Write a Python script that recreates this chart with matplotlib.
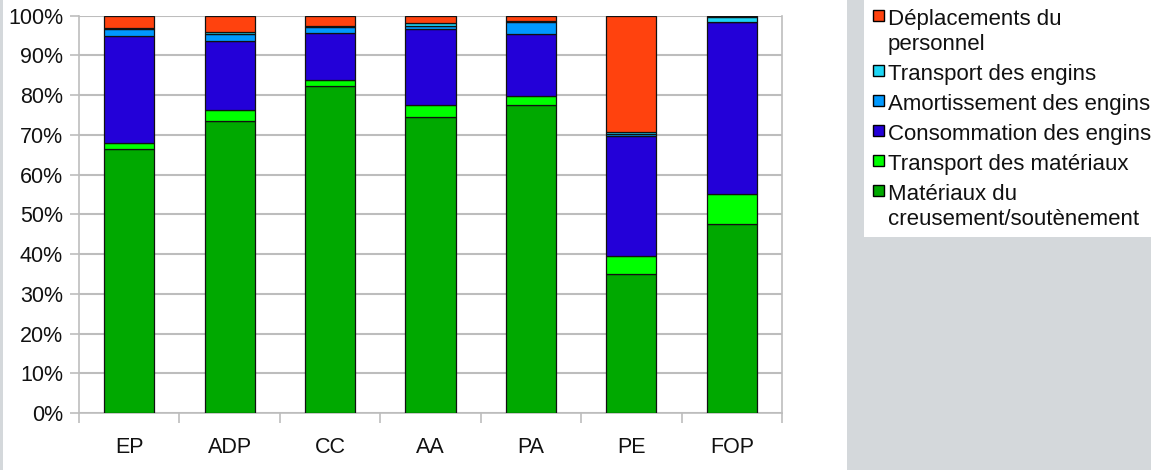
import matplotlib.pyplot as plt
import numpy as np
from matplotlib.patches import Rectangle

plt.rcParams['font.family'] = ['Liberation Sans', 'DejaVu Sans']

sites = ['EP', 'ADP', 'CC', 'AA', 'PA', 'PE', 'FOP']

# shares in % for each site, stacked from bottom to top
materiaux = [66.4, 73.6, 82.2, 74.5, 77.4, 35.0, 47.5]
transport_mat = [1.6, 2.7, 1.6, 2.9, 2.5, 4.6, 7.6]
consommation = [26.9, 17.3, 11.9, 19.2, 15.5, 30.1, 43.2]
amortissement = [1.8, 1.7, 1.4, 0.8, 2.9, 0.5, 0.1]
transport_eng = [0.3, 0.5, 0.4, 0.7, 0.4, 0.5, 1.2]
deplacements = [3.0, 4.2, 2.5, 1.9, 1.3, 29.3, 0.4]

series = [
    (materiaux, 'Matériaux du\ncreusement/soutènement', '#00a900'),
    (transport_mat, 'Transport des matériaux', '#00ff00'),
    (consommation, 'Consommation des engins', '#2300d8'),
    (amortissement, 'Amortissement des engins', '#0099ff'),
    (transport_eng, 'Transport des engins', '#1ed6f5'),
    (deplacements, 'Déplacements du\npersonnel', '#ff420e'),
]

W, H = 1151, 470
fig = plt.figure(figsize=(W / 100, H / 100), dpi=100, facecolor='#d4d8db')

# white panels behind the chart and the legend
fig.patches.append(Rectangle((3 / W, 0), 844 / W, 1, transform=fig.transFigure,
                             facecolor='white', edgecolor='none', zorder=-5))
fig.patches.append(Rectangle((864 / W, 1 - 237 / H), 287 / W, 237 / H,
                             transform=fig.transFigure, facecolor='white',
                             edgecolor='none', zorder=-5))

ax = fig.add_axes([79 / W, 57 / H, 703 / W, 397.3 / H])
ax.set_zorder(2)
ax.set_facecolor('white')

x = np.arange(len(sites))
bottom = np.zeros(len(sites))
for vals, label, color in series:
    v = np.array(vals)
    ax.bar(x, v, 0.5, bottom=bottom, color=color, edgecolor='#111111',
           linewidth=0.9, zorder=3)
    bottom += v

ax.set_xlim(-0.5, len(sites) - 0.5)
ax.set_ylim(0, 100)
ax.set_yticks(np.arange(0, 101, 10))
ax.set_yticklabels([f'{t}%' for t in range(0, 101, 10)])
ax.set_xticks(x)
ax.set_xticklabels(sites)
ax.set_xticks(np.arange(-0.5, len(sites), 1), minor=True)

ax.grid(axis='y', color='#bdbdbd', linewidth=1.5, zorder=0)
ax.tick_params(axis='y', length=6.5, width=1.2, color='#bdbdbd', pad=5,
               labelsize=15.5, labelcolor='#111111')
ax.tick_params(axis='x', which='major', length=0, pad=17, labelsize=15.5,
               labelcolor='#111111')
ax.tick_params(axis='x', which='minor', length=7, width=1.2, color='#bdbdbd')

for side in ['left', 'bottom', 'right']:
    ax.spines[side].set_color('#bdbdbd')
    ax.spines[side].set_linewidth(1.2)
ax.spines['top'].set_visible(False)

# legend drawn by hand: square beside the first line of each entry
baseline = 25
for vals, label, color in series[::-1]:
    fig.patches.append(Rectangle((873 / W, 1 - (baseline - 4) / H), 11 / W, 11 / H,
                                 transform=fig.transFigure, facecolor=color,
                                 edgecolor='black', linewidth=1.0, zorder=3))
    for line in label.split('\n'):
        fig.text(888 / W, 1 - baseline / H, line, fontsize=16, color='#111111',
                 va='baseline', ha='left')
        baseline += 25
    baseline += 5

fig.savefig('out.png', dpi=100, facecolor=fig.get_facecolor())
